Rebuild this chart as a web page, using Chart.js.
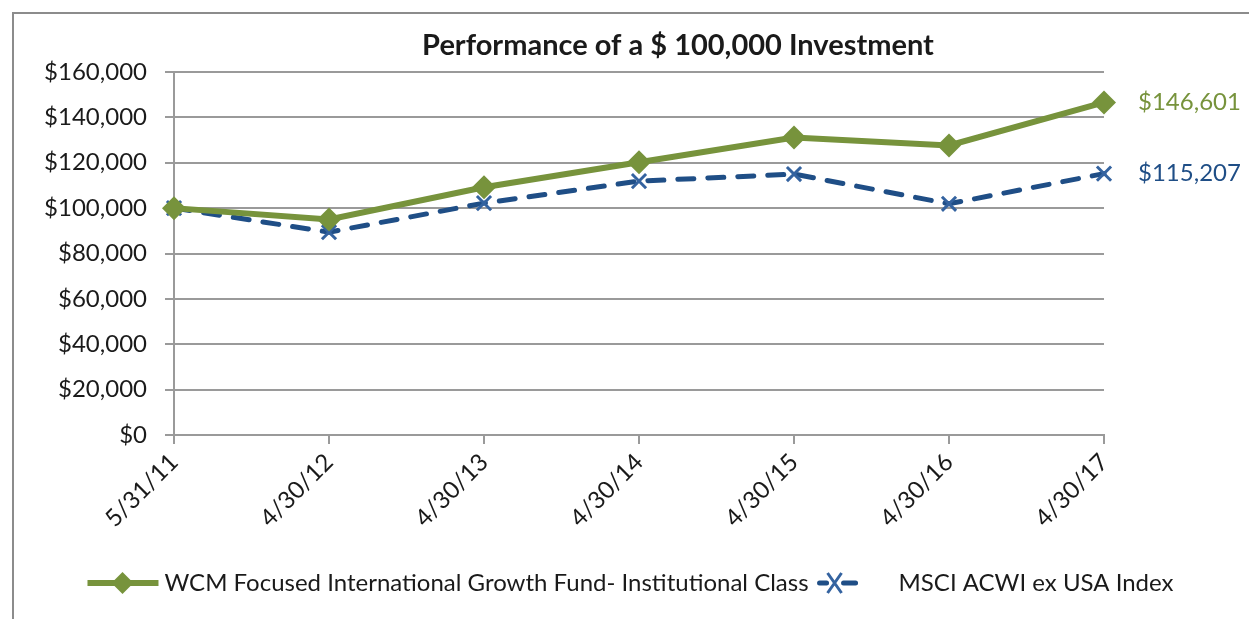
<!DOCTYPE html>
<html>
<head>
<meta charset="utf-8">
<script src="https://cdn.jsdelivr.net/npm/chart.js@4.4.0/dist/chart.umd.min.js"></script>
<style>
  html, body { margin: 0; padding: 0; background: #fff; overflow: hidden; }
  #wrap { position: relative; width: 1249px; height: 619px; }
</style>
</head>
<body>
<div id="wrap"><canvas id="grafico" width="1249" height="619"></canvas></div>
<script>
// datos
const fechas = ['5/31/11', '4/30/12', '4/30/13', '4/30/14', '4/30/15', '4/30/16', '4/30/17']
const fondo = [100000, 95000, 109200, 120200, 131100, 127600, 146601]
const indice = [100000, 89400, 102200, 111900, 115000, 101900, 115207]
const nombres = ['WCM Focused International Growth Fund- Institutional Class', 'MSCI ACWI ex USA Index']
const etiquetasFinales = ['$146,601', '$115,207']
const titulo = 'Performance of a $ 100,000 Investment'

const verde = '#77933C'
const azul = '#1F4E86'
const azulX = '#3463A0'
const gris = '#9a9a9a'
const fuente = 'Lato'

const dinero = (v) => '$' + v.toLocaleString('en-US')

// dibuja marco, titulo, etiquetas finales y leyenda
const extras = {
  id: 'extras',
  beforeDraw(chart) {
    const ctx = chart.ctx
    ctx.save()
    ctx.fillStyle = '#fff'
    ctx.fillRect(0, 0, chart.width, chart.height)
    ctx.strokeStyle = '#8c8c8c'
    ctx.lineWidth = 2
    ctx.strokeRect(13, 13, chart.width + 50, chart.height + 50)
    ctx.restore()
  },
  afterDraw(chart) {
    const ctx = chart.ctx
    ctx.save()
    // titulo
    ctx.font = 'bold 29px ' + fuente
    ctx.fillStyle = '#1a1a1a'
    ctx.textAlign = 'center'
    ctx.textBaseline = 'middle'
    ctx.fillText(titulo, 678, 46)

    // valores finales
    ctx.font = '24px ' + fuente
    ctx.textAlign = 'left'
    const colores = [verde, azul]
    chart.data.datasets.forEach((ds, i) => {
      const meta = chart.getDatasetMeta(i)
      const p = meta.data[meta.data.length - 1]
      ctx.fillStyle = colores[i]
      ctx.fillText(etiquetasFinales[i], p.x + 34, p.y)
    })

    // leyenda
    ctx.font = '24px ' + fuente
    const w1 = ctx.measureText(nombres[0]).width
    const w2 = ctx.measureText(nombres[1]).width
    const total = 71 + 6 + w1 + 11 + 36 + 43 + w2
    let x = chart.width / 2 + 6 - total / 2
    const y = 583
    // muestra verde
    ctx.strokeStyle = verde
    ctx.lineWidth = 6
    ctx.beginPath()
    ctx.moveTo(x, y)
    ctx.lineTo(x + 71, y)
    ctx.stroke()
    ctx.fillStyle = verde
    ctx.beginPath()
    ctx.moveTo(x + 35, y - 11)
    ctx.lineTo(x + 46, y)
    ctx.lineTo(x + 35, y + 11)
    ctx.lineTo(x + 24, y)
    ctx.closePath()
    ctx.fill()
    x += 77
    ctx.fillStyle = '#1a1a1a'
    ctx.fillText(nombres[0], x, y)
    x += w1 + 11
    // muestra azul
    ctx.strokeStyle = azul
    ctx.lineWidth = 5
    ctx.lineCap = 'round'
    ctx.beginPath()
    ctx.moveTo(x, y)
    ctx.lineTo(x + 7, y)
    ctx.moveTo(x + 24, y)
    ctx.lineTo(x + 36, y)
    ctx.stroke()
    ctx.strokeStyle = azulX
    ctx.lineWidth = 3
    ctx.lineCap = 'butt'
    ctx.beginPath()
    ctx.moveTo(x + 8, y - 10)
    ctx.lineTo(x + 22, y + 10)
    ctx.moveTo(x + 22, y - 10)
    ctx.lineTo(x + 8, y + 10)
    ctx.stroke()
    x += 36 + 43
    ctx.fillStyle = '#1a1a1a'
    ctx.fillText(nombres[1], x, y)
    ctx.restore()
  },
}

const contenedor = document.getElementById('grafico')
const grafico = new Chart(contenedor, {
  type: 'line',
  data: {
    labels: fechas,
    datasets: [
      {
        label: nombres[0],
        data: fondo,
        borderColor: verde,
        backgroundColor: verde,
        borderWidth: 6,
        pointStyle: 'rectRot',
        pointRadius: 12,
        pointBackgroundColor: verde,
        pointBorderWidth: 0,
        tension: 0,
        clip: false,
      },
      {
        label: nombres[1],
        data: indice,
        borderColor: azul,
        backgroundColor: azul,
        borderWidth: 5,
        borderDash: [16, 14],
        borderCapStyle: 'round',
        pointStyle: 'crossRot',
        pointRadius: 10,
        pointBorderColor: azulX,
        pointBorderWidth: 3,
        tension: 0,
        clip: false,
      },
    ],
  },
  options: {
    responsive: false,
    animation: false,
    devicePixelRatio: 1,
    layout: {
      padding: { top: 72, right: 145, bottom: 84, left: 0 },
    },
    scales: {
      x: {
        offset: false,
        afterFit: (scale) => { scale.height = 100 },
        grid: {
          drawOnChartArea: false,
          drawTicks: true,
          tickLength: 9,
          color: gris,
          lineWidth: 2,
        },
        border: { display: true, color: gris, width: 2 },
        ticks: {
          minRotation: 45,
          maxRotation: 45,
          autoSkip: false,
          padding: 4,
          color: '#1a1a1a',
          font: { family: fuente, size: 24 },
        },
      },
      y: {
        min: 0,
        max: 160000,
        afterFit: (scale) => { scale.width = 174 },
        grid: {
          color: gris,
          lineWidth: 2,
          drawTicks: true,
          tickLength: 9,
        },
        border: { display: true, color: gris, width: 2 },
        ticks: {
          stepSize: 20000,
          padding: 18,
          color: '#1a1a1a',
          font: { family: fuente, size: 24 },
          callback: (v) => dinero(v),
        },
      },
    },
    plugins: {
      legend: { display: false },
      title: { display: false },
      tooltip: { enabled: false },
    },
  },
  plugins: [extras],
})
</script>
</body>
</html>
